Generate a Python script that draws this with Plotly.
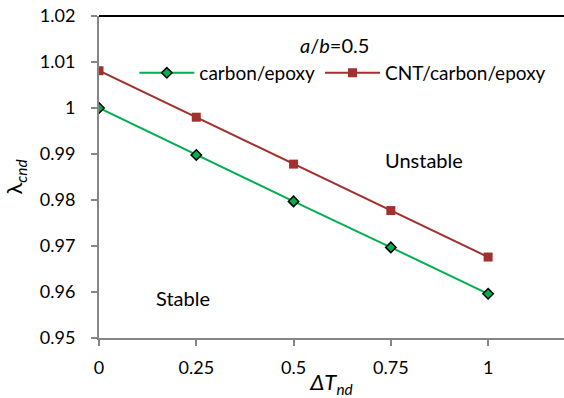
import plotly.graph_objects as go

dT = [0, 0.25, 0.5, 0.75, 1]
carbon = [1.0, 0.9898, 0.9797, 0.9697, 0.9596]
cnt = [1.0081, 0.9980, 0.9878, 0.9777, 0.9676]
xticks = [0, 0.25, 0.5, 0.75, 1]
xticklabels = ["0", "0.25", "0.5", "0.75", "1"]
yticks = [0.95, 0.96, 0.97, 0.98, 0.99, 1.0, 1.01, 1.02]
yticklabels = ["0.95", "0.96", "0.97", "0.98", "0.99", "1", "1.01", "1.02"]

FONT = "Lato, Open Sans, sans-serif"

fig = go.Figure()
fig.add_trace(go.Scatter(x=dT, y=carbon, mode="lines+markers", name="carbon/epoxy",
                         line=dict(color="#00B050", width=2),
                         marker=dict(symbol="diamond", size=8, color="#00B050",
                                     line=dict(color="black", width=1.5))))
fig.add_trace(go.Scatter(x=dT, y=cnt, mode="lines+markers", name="CNT/carbon/epoxy",
                         line=dict(color="#A0312E", width=2),
                         marker=dict(symbol="square", size=9, color="#A0312E")))

fig.update_layout(
    width=564, height=398,
    margin=dict(l=99, r=0, t=16, b=60),
    paper_bgcolor="white", plot_bgcolor="white",
    font=dict(family=FONT, size=18, color="black"),
    showlegend=True,
    legend=dict(orientation="h", x=0.076, y=0.823, xanchor="left", yanchor="middle",
                bgcolor="rgba(0,0,0,0)", font=dict(size=19), itemwidth=55,
                tracegroupgap=0),
    xaxis=dict(range=[0, 1.195], tickvals=xticks, ticktext=xticklabels,
               showgrid=False, zeroline=False, showline=True, linecolor="#868686",
               linewidth=2, ticks="outside", ticklen=6, tickcolor="#868686", tickwidth=2,
               ticklabelstandoff=6,
               title=dict(text="<i>ΔT</i><sub><i>nd</i></sub>", standoff=4)),
    yaxis=dict(range=[0.95, 1.02], tickvals=yticks, ticktext=yticklabels,
               showgrid=False, zeroline=False, showline=True, linecolor="#868686",
               linewidth=2, ticks="outside", ticklen=6, tickcolor="#868686", tickwidth=2,
               ticklabelstandoff=12,
               title=dict(text="λ<sub><i>cnd</i></sub>", standoff=16)),
    shapes=[dict(type="line", xref="paper", yref="paper", x0=0, x1=1, y0=1, y1=1,
                 line=dict(color="black", width=2))],
    annotations=[
        dict(text="<i>a</i>/<i>b</i>=0.5", x=0.606, y=1.0136, xref="x", yref="y",
             showarrow=False, font=dict(size=20)),
        dict(text="Unstable", x=0.834, y=0.9886, xref="x", yref="y", showarrow=False,
             font=dict(size=20)),
        dict(text="Stable", x=0.216, y=0.9586, xref="x", yref="y", showarrow=False,
             font=dict(size=20)),
    ],
)

fig.write_html("out.html")
